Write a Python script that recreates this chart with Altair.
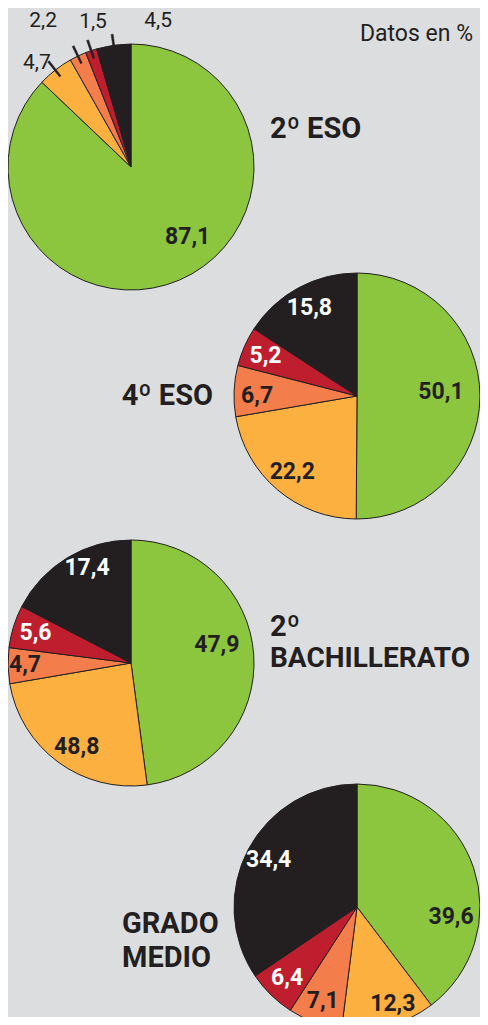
import altair as alt
import pandas as pd

# ---- data (Datos en %) ----
niveles = ["2º ESO", "4º ESO", "2º BACHILLERATO", "GRADO MEDIO"]
categorias = ["c1", "c2", "c3", "c4", "c5"]
colores = ["#8cc63f", "#fbb040", "#f37d4b", "#be1e2d", "#231f20"]

eso2 = [87.1, 4.7, 2.2, 1.5, 4.5]
eso4 = [50.1, 22.2, 6.7, 5.2, 15.8]
bach2 = [47.9, 24.4, 4.7, 5.6, 17.4]          # slice sizes as drawn
bach2_impreso = [47.9, 48.8, 4.7, 5.6, 17.4]  # values as printed on the figure
gmedio = [39.6, 12.3, 7.1, 6.4, 34.4]

series = [eso2, eso4, bach2, gmedio]
impresos = [eso2, eso4, bach2_impreso, gmedio]

# ---- layout ----
W, H = 472, 1009
R = 123
centros = [(123, 159), (349, 388), (123, 655), (349, 899)]
BG = "#dcdddf"
INK = "#231f20"
FONT = "Roboto"

# label nudges (dx, dy) for some labels, keyed by (pie, slice index)
nudge = {
    (0, 0): (22, -11),
    (0, 1): (-8, 6), (0, 2): (-24, -12), (0, 3): (10, -5), (0, 4): (48, 1),
    (1, 0): (0, -4), (1, 2): (0, 4),
    (2, 0): (0, -12), (2, 1): (5, 3), (2, 2): (-6, 0), (2, 4): (8, -10),
    (3, 0): (5, 40), (3, 1): (10, 0),
}


def fmt(v):
    return f"{v:.1f}".replace(".", ",")


def pie_layer(p):
    vals = series[p]
    cx, cy = centros[p]
    total = sum(vals)
    rows = []
    acc = 0.0
    for i, v in enumerate(vals):
        rows.append(dict(idx=i, cat=categorias[i], v=v, start=acc, end=acc + v,
                         mid=acc + v / 2, lo=acc + v / 2 - 0.12, hi=acc + v / 2 + 0.12,
                         lab=fmt(impresos[p][i])))
        acc += v
    df = pd.DataFrame(rows)
    tscale = alt.Scale(domain=[0, total])
    base = alt.Chart(df)
    arcs = base.mark_arc(radius=R, stroke=INK, strokeWidth=1).encode(
        x=alt.value(cx), y=alt.value(cy),
        theta=alt.Theta("start:Q", scale=tscale),
        theta2="end:Q",
        color=alt.Color("cat:N", scale=alt.Scale(domain=categorias, range=colores), legend=None),
    )
    layers = [arcs]
    outer = p == 0
    if outer:
        ticks = base.transform_filter(alt.datum.idx > 0).mark_arc(
            radius=R + 11, radius2=R - 8, fill=INK, stroke=INK, strokeWidth=0.6
        ).encode(
            x=alt.value(cx), y=alt.value(cy),
            theta=alt.Theta("lo:Q", scale=tscale), theta2="hi:Q",
        )
        layers.append(ticks)
    for i in range(len(vals)):
        dx, dy = nudge.get((p, i), (0, 0))
        if outer and i > 0:
            rad = 140 if i == 1 else 148
            mk = dict(fontSize=21, fontWeight="normal", color=INK)
        else:
            rad = 100
            if i == 0:
                rad = 88 if p == 0 else (84 if p == 1 else (86 if p == 2 else 94))
            col = "#ffffff" if i >= 3 else INK
            mk = dict(fontSize=23, fontWeight="bold", color=col)
        t = base.transform_filter(alt.datum.idx == i).mark_text(
            radius=rad, dx=dx, dy=dy, align="center", baseline="middle", font=FONT, **mk
        ).encode(
            x=alt.value(cx), y=alt.value(cy),
            theta=alt.Theta("mid:Q", scale=tscale),
            text="lab:N",
        )
        layers.append(t)
    return alt.layer(*layers)


def titulo(txt, x, y, align="left", size=29, weight="bold"):
    return alt.Chart(pd.DataFrame({"t": [txt]})).mark_text(
        align=align, baseline="alphabetic", font=FONT, fontSize=size,
        fontWeight=weight, color=INK
    ).encode(x=alt.value(x), y=alt.value(y), text="t:N")


pies = [pie_layer(p) for p in range(4)]
titles = [
    titulo("Datos en %", 465, 33, align="right", size=23, weight="normal"),
    titulo("2º ESO", 262, 130),
    titulo("4º ESO", 205, 397, align="right"),
    titulo("2º", 262, 628),
    titulo("BACHILLERATO", 262, 659, size=28),
    titulo("GRADO", 114, 925),
    titulo("MEDIO", 114, 959),
]

chart = alt.layer(*pies, *titles).resolve_scale(theta="independent").properties(
    width=W, height=H, background=BG, padding=0,
    autosize=alt.AutoSizeParams(type="none"),
).configure_view(stroke=None)

chart.save("out.html", embed_options={"renderer": "svg", "actions": False})
